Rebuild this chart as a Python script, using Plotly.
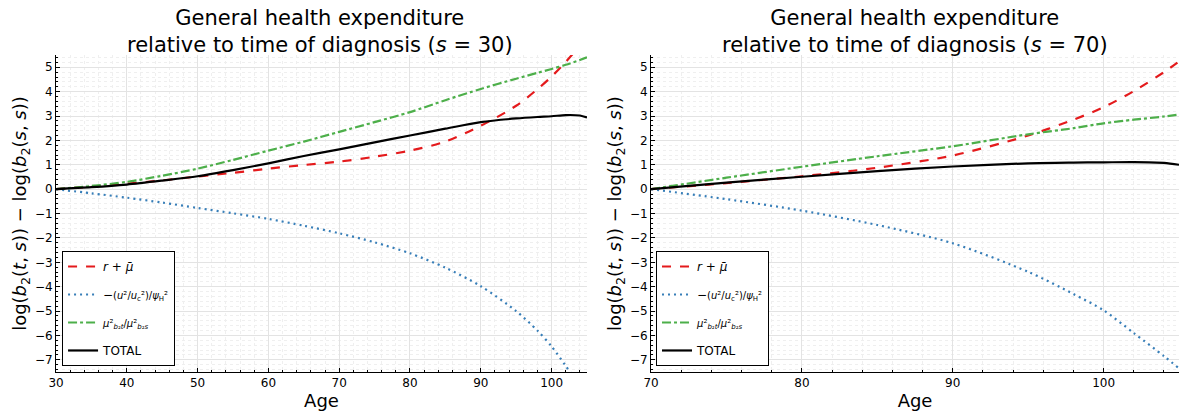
import plotly.graph_objects as go

# ---- data ----
age_30 = [30, 35, 40, 45, 50, 55, 60, 65, 70, 75, 80, 85, 90, 95, 98, 100, 102, 104, 105]
red_30 = [0, 0.1, 0.22, 0.36, 0.52, 0.67, 0.84, 0.99, 1.13, 1.33, 1.58, 1.95, 2.6, 3.42, 4.1, 4.62, 5.22, 5.9, 6.3]
blue_30 = [0, -0.17, -0.35, -0.55, -0.77, -0.99, -1.22, -1.5, -1.81, -2.18, -2.63, -3.22, -3.98, -5.0, -5.8, -6.45, -7.25, -8.1, -8.6]
green_30 = [0, 0.13, 0.3, 0.55, 0.84, 1.2, 1.58, 1.95, 2.35, 2.75, 3.16, 3.65, 4.11, 4.53, 4.77, 4.93, 5.1, 5.3, 5.41]
total_30 = [0, 0.08, 0.19, 0.35, 0.53, 0.78, 1.06, 1.36, 1.63, 1.92, 2.2, 2.48, 2.75, 2.9, 2.96, 2.99, 3.04, 3.02, 2.94]

age_70 = [70, 75, 80, 85, 90, 95, 98, 100, 102, 104, 105]
red_70 = [0, 0.25, 0.53, 0.88, 1.38, 2.2, 2.85, 3.36, 4.02, 4.8, 5.24]
blue_70 = [0, -0.41, -0.88, -1.47, -2.22, -3.39, -4.3, -4.97, -5.9, -6.85, -7.35]
green_70 = [0, 0.47, 0.92, 1.35, 1.76, 2.25, 2.5, 2.7, 2.85, 2.98, 3.06]
total_70 = [0, 0.27, 0.51, 0.74, 0.93, 1.06, 1.09, 1.1, 1.11, 1.08, 1.0]

x_ticks_30 = [30, 40, 50, 60, 70, 80, 90, 100]
x_ticks_70 = [70, 80, 90, 100]
y_ticks = list(range(-7, 6))

names = ["<i>r</i> + <i>μ̄</i>",
         "−<span style='font-size:10px'>(<i>u</i>²/<i>u</i><sub>c</sub>²)/<i>ψ</i><sub>H</sub>²</span>",
         "<span style='font-size:10px'><i>μ</i>²<sub><i>b</i>₂<i>t</i></sub>/<i>μ</i>²<sub><i>b</i>₂<i>s</i></sub></span>",
         "TOTAL"]
colors = ["#e41a1c", "#377eb8", "#4daf4a", "#000000"]
dashes = ["dash", "2px,4px", "dashdot", "solid"]

FONT = "DejaVu Sans"
fig = go.Figure()

panels = [
    (age_30, [red_30, blue_30, green_30, total_30], "x", "y", "legend"),
    (age_70, [red_70, blue_70, green_70, total_70], "x2", "y2", "legend2"),
]
for ages, series, xa, ya, lg in panels:
    for i, vals in enumerate(series):
        fig.add_trace(go.Scatter(
            x=ages, y=vals, mode="lines", name=names[i],
            line=dict(color=colors[i], dash=dashes[i], width=2.2, shape="spline", smoothing=0.8),
            xaxis=xa, yaxis=ya, legend=lg, legendgroup=lg + str(i),
        ))

grid_common = dict(
    showgrid=True, gridcolor="#e3e3e3", gridwidth=1,
    showline=True, linecolor="black", linewidth=1, mirror=False,
    ticks="inside", ticklen=4, tickcolor="black",
    zeroline=False, automargin=False,
    tickfont=dict(family=FONT, size=12, color="black"),
)
minor_x = dict(dtick=2, ticks="inside", ticklen=2, tickcolor="black",
               showgrid=True, gridcolor="#efefef", griddash="dot", gridwidth=1)
minor_y = dict(dtick=0.2, ticks="inside", ticklen=2, tickcolor="black",
               showgrid=True, gridcolor="#efefef", griddash="dot", gridwidth=1)

ylabel = "log(<i>b</i><sub>2</sub>(<i>t</i>, <i>s</i>)) − log(<i>b</i><sub>2</sub>(<i>s</i>, <i>s</i>))"
ydom = [0.1014, 0.867]
fig.update_layout(
    width=1182, height=414,
    margin=dict(l=0, r=0, t=0, b=0),
    paper_bgcolor="white", plot_bgcolor="white",
    font=dict(family=FONT, color="black"),
    xaxis=dict(domain=[0.0474, 0.4966], range=[30, 105], tickvals=x_ticks_30,
               title=dict(text="Age", font=dict(size=18), standoff=4), minor=minor_x, anchor="y", **grid_common),
    yaxis=dict(domain=ydom, range=[-7.5, 5.5], tickvals=y_ticks, anchor="x",
               title=dict(text=ylabel, font=dict(size=18), standoff=3),
               minor=minor_y, **grid_common),
    xaxis2=dict(domain=[0.5508, 0.9975], range=[70, 105], tickvals=x_ticks_70,
                title=dict(text="Age", font=dict(size=18), standoff=4), minor=minor_x, anchor="y2", **grid_common),
    yaxis2=dict(domain=ydom, range=[-7.5, 5.5], tickvals=y_ticks, anchor="x2",
                title=dict(text=ylabel, font=dict(size=18), standoff=3),
                minor=minor_y, **grid_common),
    legend=dict(x=0.0525, y=0.116, xanchor="left", yanchor="bottom",
                bordercolor="black", borderwidth=1, bgcolor="white",
                font=dict(family=FONT, size=12), tracegroupgap=9, itemwidth=30),
    legend2=dict(x=0.555, y=0.116, xanchor="left", yanchor="bottom",
                 bordercolor="black", borderwidth=1, bgcolor="white",
                 font=dict(family=FONT, size=12), tracegroupgap=9, itemwidth=30),
    showlegend=True,
    annotations=[
        dict(text="General health expenditure<br>relative to time of diagnosis (<i>s</i> = 30)",
             x=0.271, y=0.99, xref="paper", yref="paper", xanchor="center", yanchor="top",
             showarrow=False, font=dict(family=FONT, size=21)),
        dict(text="General health expenditure<br>relative to time of diagnosis (<i>s</i> = 70)",
             x=0.774, y=0.99, xref="paper", yref="paper", xanchor="center", yanchor="top",
             showarrow=False, font=dict(family=FONT, size=21)),
    ],
)

fig.write_html("out.html", config={"displayModeBar": False},
               post_script="document.body.style.margin='0';document.body.style.overflow='hidden';")
